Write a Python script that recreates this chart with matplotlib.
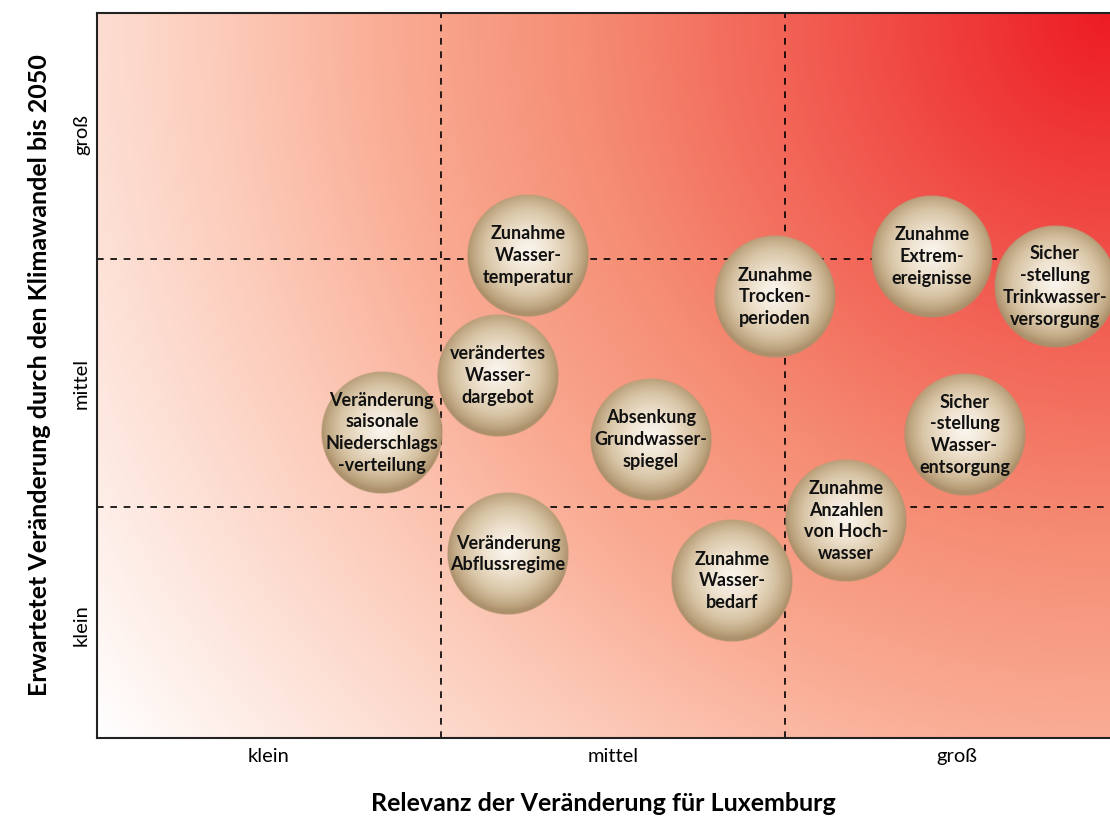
import numpy as np
import matplotlib.pyplot as plt
from matplotlib.colors import LinearSegmentedColormap

# bubble labels and positions (x: Relevanz, y: erwartete Veränderung, in category units)
labels = [
    "Zunahme\nWasser-\ntemperatur",
    "verändertes\nWasser-\ndargebot",
    "Veränderung\nsaisonale\nNiederschlags\n-verteilung",
    "Veränderung\nAbflussregime",
    "Absenkung\nGrundwasser-\nspiegel",
    "Zunahme\nWasser-\nbedarf",
    "Zunahme\nTrocken-\nperioden",
    "Zunahme\nAnzahlen\nvon Hoch-\nwasser",
    "Zunahme\nExtrem-\nereignisse",
    "Sicher\n-stellung\nTrinkwasser-\nversorgung",
    "Sicher\n-stellung\nWasser-\nentsorgung",
]
x_vals = [1.253, 1.166, 0.828, 1.195, 1.610, 1.846, 1.971, 2.177, 2.427, 2.785, 2.523]
y_vals = [1.944, 1.460, 1.230, 0.742, 1.202, 0.633, 1.778, 0.875, 1.940, 1.819, 1.222]

x_ticks = [0.5, 1.5, 2.5]
x_ticklabels = ["klein", "mittel", "groß"]
y_ticks = [0.456, 1.431, 2.431]
y_ticklabels = ["klein", "mittel", "groß"]
x_grid = [1.0, 2.0]
y_grid = [0.93, 1.93]

xmax, ymax = 2.945, 2.923
px_x, px_y = 344.0, 248.0   # pixels per category unit
bubble_r = 61.0             # bubble radius in pixels

plt.rcParams['font.family'] = ['Lato', 'DejaVu Sans']

fig = plt.figure(figsize=(11.1, 8.19), dpi=100)
ax = fig.add_axes([97 / 1110, 81 / 819, 1013 / 1110, 725 / 819])

# background: radial gradient from top right corner (red) to bottom left (white)
bg_cmap = LinearSegmentedColormap.from_list("bg", [
    (0.0, (237/255, 28/255, 36/255)),
    (0.42, (245/255, 140/255, 115/255)),
    (0.58, (250/255, 172/255, 148/255)),
    (0.70, (252/255, 200/255, 182/255)),
    (0.81, (253/255, 221/255, 209/255)),
    (1.0, (1.0, 1.0, 1.0)),
])
gx = np.linspace(0, xmax, 500)
gy = np.linspace(0, ymax, 360)
GX, GY = np.meshgrid(gx, gy)
dist = np.hypot((xmax - GX) * px_x, (ymax - GY) * px_y)
dist = dist / np.hypot(xmax * px_x, ymax * px_y)
ax.imshow(dist, cmap=bg_cmap, vmin=0, vmax=1, origin='lower',
          extent=[0, xmax, 0, ymax], aspect='auto', zorder=0, interpolation='bilinear')

for xv in x_grid:
    ax.axvline(xv, color='black', lw=1.2, ls=(0, (4, 4)), zorder=1)
for yv in y_grid:
    ax.axhline(yv, color='black', lw=1.2, ls=(0, (4, 4)), zorder=1)

# bubble image: light centre, tan/brown rim
n = 240
u = np.linspace(-1, 1, n)
U, V = np.meshgrid(u, u)
r = np.hypot(U, V)
rh = np.clip(np.hypot(U, V - 0.06), 0, 1)
stops = np.array([0.0, 0.35, 0.7, 0.92, 1.0])
cols = np.array([
    [250, 247, 240],
    [240, 228, 210],
    [216, 197, 166],
    [188, 163, 126],
    [172, 145, 108],
]) / 255.0
rgba = np.zeros((n, n, 4))
for c in range(3):
    rgba[..., c] = np.interp(rh, stops, cols[:, c])
rgba[..., 3] = np.clip((1 - r) * n / 2.5, 0, 1)

rx = bubble_r / px_x
ry = bubble_r / px_y
for lab, xv, yv in zip(labels, x_vals, y_vals):
    ax.imshow(rgba, extent=[xv - rx, xv + rx, yv - ry, yv + ry], origin='lower',
              aspect='auto', zorder=2, interpolation='bilinear')
    ax.text(xv, yv, lab, ha='center', va='center', fontsize=13, fontweight='bold',
            color='#111111', linespacing=1.35, zorder=3)

ax.set_xlim(0, xmax)
ax.set_ylim(0, ymax)
ax.set_xticks(x_ticks)
ax.set_xticklabels(x_ticklabels, fontsize=14.5)
ax.set_yticks(y_ticks)
ax.set_yticklabels(y_ticklabels, fontsize=14.5, rotation=90, va='center')
ax.tick_params(axis='x', length=0, pad=7)
ax.tick_params(axis='y', length=0, pad=5)

for s in ['left', 'bottom', 'top']:
    ax.spines[s].set_linewidth(1.5)
    ax.spines[s].set_color('#222222')
ax.spines['right'].set_visible(False)

ax.set_xlabel("Relevanz der Veränderung für Luxemburg", fontsize=18, fontweight='bold')
ax.xaxis.set_label_coords(0.4995, -0.074)
ax.set_ylabel("Erwartetet Veränderung durch den Klimawandel bis 2050", fontsize=18,
              fontweight='bold')
ax.yaxis.set_label_coords(-0.045, 0.5)

fig.savefig("out.png", dpi=100)
